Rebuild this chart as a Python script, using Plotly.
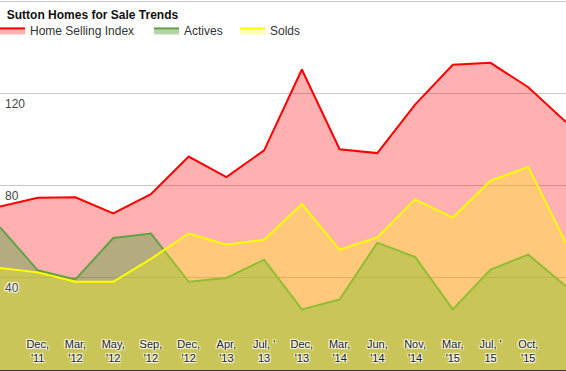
import plotly.graph_objects as go

# ---- data ----
categories = ["Sep '11", "Dec '11", "Mar '12", "May '12", "Sep '12", "Dec '12", "Apr '13",
              "Jul '13", "Dec '13", "Mar '14", "Jun '14", "Nov '14", "Mar '15", "Jul '15",
              "Oct '15", "Jan '16"]
tick_labels = ["Dec,<br>'11", "Mar,<br>'12", "May,<br>'12", "Sep,<br>'12", "Dec,<br>'12",
               "Apr,<br>'13", "Jul, '<br>13", "Dec,<br>'13", "Mar,<br>'14", "Jun,<br>'14",
               "Nov,<br>'14", "Mar,<br>'15", "Jul, '<br>15", "Oct,<br>'15"]
home_selling_index = [71.0, 74.8, 75.0, 68.0, 76.4, 92.7, 83.8, 95.4, 130.5, 95.9, 94.2,
                      115.3, 132.6, 133.4, 122.8, 107.7]
actives = [62.0, 43.3, 39.3, 57.3, 59.3, 38.3, 40.0, 47.9, 26.3, 30.6, 55.3, 49.1, 26.3,
           43.6, 50.1, 36.4]
solds = [44.3, 42.4, 38.3, 38.3, 48.3, 59.3, 54.4, 56.6, 72.1, 52.2, 57.6, 74.1, 66.2,
         82.2, 88.2, 55.1]
y_ticks = [40, 80, 120, 160]
y_tick_text = ["40", "80", "120", ""]

halo = "1px 1px 1px #fff, -1px -1px 1px #fff, 1px -1px 1px #fff, -1px 1px 1px #fff"
font_family = "Liberation Sans, Arial, sans-serif"

fig = go.Figure()
fig.add_trace(go.Scatter(x=categories, y=home_selling_index, name="Home Selling Index",
                         mode="lines", line=dict(color="#ff0000", width=2),
                         fill="tozeroy", fillcolor="rgba(255,0,0,0.31)", legend="legend"))
fig.add_trace(go.Scatter(x=categories, y=actives, name="Actives",
                         mode="lines", line=dict(color="#62a247", width=2),
                         fill="tozeroy", fillcolor="rgba(106,168,79,0.5)", legend="legend2"))
fig.add_trace(go.Scatter(x=categories, y=solds, name="Solds",
                         mode="lines", line=dict(color="#ffff00", width=2),
                         fill="tozeroy", fillcolor="rgba(255,255,0,0.3)", legend="legend3"))

legend_common = dict(orientation="h", xanchor="left", y=0.957, yanchor="top",
                     indentation=-10, bgcolor="rgba(0,0,0,0)",
                     font=dict(size=12, color="#333", family=font_family))

fig.update_layout(
    width=566, height=371,
    margin=dict(l=0, r=0, t=0, b=1, pad=0, autoexpand=False),
    paper_bgcolor="white", plot_bgcolor="white",
    font=dict(family=font_family, size=12, color="#333"),
    title=dict(text="<b>Sutton Homes for Sale Trends</b>", x=0.012, xanchor="left",
               y=0.96, yanchor="middle", yref="container",
               font=dict(size=12, color="#111", family=font_family)),
    showlegend=True,
    legend=dict(x=0.0, **legend_common),
    legend2=dict(x=154 / 566, **legend_common),
    legend3=dict(x=240 / 566, **legend_common),
    xaxis=dict(type="category", categoryorder="array", categoryarray=categories,
               range=[0, len(categories) - 1], showgrid=False, zeroline=False,
               tickmode="array", tickvals=categories[1:15], ticktext=tick_labels,
               ticks="", ticklabelposition="inside", ticklabelstandoff=5,
               tickfont=dict(size=11, color="#222", shadow=halo),
               showline=True, linecolor="#333", linewidth=1, fixedrange=True),
    yaxis=dict(range=[0, 160.7], tickmode="array", tickvals=y_ticks, ticktext=y_tick_text,
               showgrid=True, gridcolor="#c8c8c8", gridwidth=1, zeroline=False,
               ticks="", ticklabelposition="inside", ticklabelshift=10,
               ticklabelstandoff=2,
               tickfont=dict(size=12, color="#444", shadow=halo), fixedrange=True),
)

fig.write_html("out.html", config={"displayModeBar": False},
               post_script="document.body.style.margin='0px';")
